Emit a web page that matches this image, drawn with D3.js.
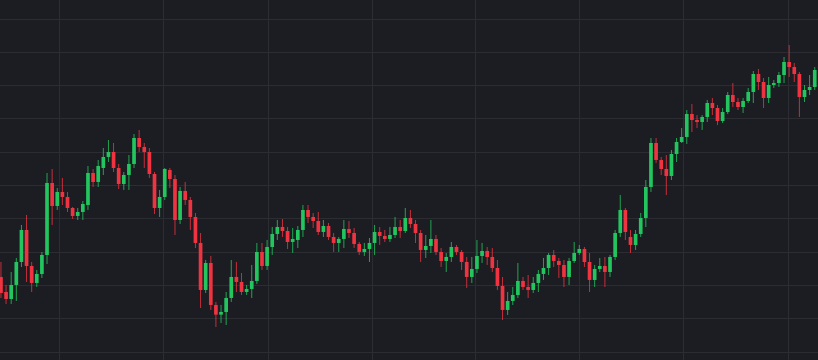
<!DOCTYPE html>
<html>
<head>
<meta charset="utf-8">
<script src="https://cdn.jsdelivr.net/npm/d3@7"></script>
<style>
  html, body { margin: 0; padding: 0; background: #1c1d22; overflow: hidden; }
</style>
</head>
<body>
<div class="container"></div>
<script>
// candle values (price units)
const open = [
  122.6, 118.1, 116.0, 120.2, 127.1, 136.7, 125.9, 120.8, 123.5, 129.2,
  150.8, 143.9, 148.1, 146.6, 143.3, 140.9, 142.1, 144.2, 153.8, 151.1,
  155.3, 158.6, 160.1, 155.3, 150.5, 153.2, 156.5, 164.3, 161.6, 160.1,
  153.5, 143.3, 146.6, 154.7, 152.0, 139.7, 148.4, 145.7, 140.6, 132.8,
  118.7, 126.8, 114.2, 111.3, 112.1, 116.3, 122.6, 121.1, 118.1, 119.0,
  121.4, 130.1, 125.9, 131.6, 135.5, 137.6, 136.4, 133.1, 133.7, 136.7,
  142.7, 140.6, 139.4, 136.1, 137.9, 134.6, 132.8, 134.0, 137.0, 135.8,
  132.5, 130.1, 131.0, 132.8, 136.1, 134.9, 134.0, 135.2, 137.6, 136.4,
  140.3, 138.5, 135.8, 130.7, 131.9, 134.0, 130.1, 127.4, 128.6, 131.6,
  130.1, 127.1, 122.6, 125.0, 128.9, 130.4, 128.6, 125.3, 119.9, 112.7,
  115.4, 117.2, 121.4, 119.6, 118.7, 120.8, 123.5, 125.3, 129.2, 127.4,
  126.2, 122.6, 127.4, 129.8, 131.0, 127.1, 121.7, 125.0, 125.9, 124.1,
  128.6, 135.8, 142.7, 134.6, 132.2, 135.5, 140.3, 149.6, 162.8, 157.7,
  155.0, 152.9, 159.5, 163.1, 164.6, 171.5, 169.7, 169.1, 170.6, 174.8,
  173.3, 169.4, 172.1, 177.2, 175.1, 173.6, 175.4, 178.1, 183.5, 181.1,
  176.3, 180.2, 180.8, 183.2, 187.1, 185.6, 183.5, 176.6, 178.7, 179.6
];
const high = [
  127.1, 120.2, 124.1, 128.3, 138.2, 141.2, 127.1, 124.7, 130.1, 153.8,
  155.0, 149.3, 152.3, 148.1, 143.6, 143.3, 145.4, 155.9, 155.0, 157.7,
  161.3, 163.7, 162.8, 156.5, 154.1, 159.2, 165.5, 166.7, 162.8, 161.3,
  154.1, 148.7, 155.3, 155.3, 153.2, 149.6, 151.1, 146.6, 141.8, 135.8,
  127.7, 128.9, 115.1, 114.2, 118.1, 127.7, 127.1, 123.8, 120.2, 126.2,
  132.8, 132.8, 133.7, 137.6, 139.7, 140.0, 137.6, 137.3, 137.9, 144.2,
  144.2, 141.8, 142.1, 139.7, 138.8, 135.8, 134.6, 139.7, 139.4, 137.3,
  133.1, 132.8, 134.3, 138.2, 137.6, 136.7, 137.6, 140.6, 139.7, 143.3,
  142.7, 139.7, 136.7, 135.2, 139.7, 135.2, 131.3, 129.8, 133.1, 132.2,
  130.7, 128.6, 128.6, 133.7, 132.8, 131.6, 131.3, 127.7, 122.6, 118.1,
  119.6, 126.8, 122.6, 123.2, 122.6, 124.7, 128.3, 129.8, 130.7, 128.3,
  127.7, 128.3, 133.1, 132.2, 131.6, 129.8, 126.2, 128.3, 128.6, 129.2,
  136.7, 147.2, 143.3, 136.7, 136.7, 141.8, 151.7, 164.3, 164.3, 158.6,
  159.2, 160.7, 164.3, 167.3, 172.7, 174.5, 171.2, 171.2, 175.7, 176.3,
  174.2, 173.3, 178.1, 180.8, 176.3, 176.3, 179.3, 184.4, 185.0, 182.3,
  182.6, 181.7, 184.1, 188.6, 192.2, 186.8, 184.1, 180.2, 183.2, 185.6
];
const low = [
  116.3, 114.5, 114.5, 115.4, 125.6, 121.1, 118.1, 119.6, 122.3, 126.5,
  138.2, 142.7, 144.2, 142.1, 140.0, 139.7, 139.7, 142.7, 149.6, 149.6,
  153.2, 157.1, 154.1, 149.0, 148.7, 148.7, 155.3, 160.1, 155.3, 152.3,
  141.5, 140.6, 145.7, 149.3, 135.2, 138.5, 144.2, 136.7, 131.3, 113.3,
  117.8, 112.7, 107.6, 108.8, 108.2, 115.1, 118.1, 117.2, 117.2, 116.3,
  120.5, 124.7, 124.7, 129.2, 133.7, 134.6, 131.0, 129.8, 131.3, 134.6,
  138.8, 137.3, 135.2, 134.6, 133.7, 130.1, 130.1, 131.3, 134.3, 131.3,
  129.2, 128.9, 127.1, 129.2, 132.2, 133.1, 133.1, 134.3, 134.3, 135.8,
  137.3, 132.8, 127.1, 128.3, 129.8, 129.2, 125.6, 124.1, 127.1, 129.2,
  124.7, 119.3, 120.8, 123.8, 126.8, 126.2, 124.1, 118.7, 109.7, 111.2,
  114.2, 116.3, 118.7, 116.3, 117.8, 118.1, 121.7, 123.2, 125.6, 122.3,
  119.6, 120.2, 126.8, 129.2, 125.6, 118.1, 119.6, 124.1, 119.6, 122.6,
  127.7, 134.6, 133.7, 129.8, 130.7, 134.6, 137.6, 148.1, 156.8, 153.2,
  147.2, 151.7, 157.1, 162.8, 162.5, 166.1, 167.3, 166.7, 169.1, 171.2,
  168.2, 168.8, 171.5, 173.6, 172.7, 171.8, 174.8, 174.8, 178.7, 173.3,
  174.8, 179.3, 179.6, 180.8, 182.6, 181.1, 170.6, 175.1, 177.2, 178.7
];
const close = [
  117.8, 116.0, 120.2, 127.1, 136.7, 125.9, 120.8, 123.5, 129.2, 150.8,
  143.9, 148.1, 146.6, 143.3, 140.9, 142.1, 144.5, 153.8, 151.1, 155.9,
  158.6, 160.1, 155.3, 150.5, 153.2, 156.5, 164.3, 161.6, 160.1, 153.5,
  143.3, 146.6, 155.0, 152.0, 139.7, 148.4, 145.7, 140.6, 132.8, 118.7,
  126.8, 114.2, 111.3, 112.1, 116.3, 122.6, 121.1, 118.1, 119.0, 121.4,
  130.1, 125.9, 131.6, 135.5, 137.6, 136.4, 133.1, 134.0, 136.7, 142.7,
  140.6, 139.4, 136.1, 137.9, 134.6, 132.8, 134.0, 137.0, 135.8, 132.5,
  130.1, 131.0, 132.8, 136.1, 134.9, 134.0, 135.2, 137.6, 136.4, 140.3,
  138.5, 135.8, 130.7, 131.9, 134.0, 130.1, 127.4, 128.6, 131.6, 130.1,
  127.1, 122.6, 125.0, 128.9, 130.4, 128.6, 125.3, 119.9, 112.7, 115.4,
  117.2, 121.4, 119.6, 118.7, 120.8, 123.5, 125.3, 129.2, 127.4, 126.2,
  122.6, 127.4, 129.8, 131.0, 127.1, 121.7, 125.0, 125.9, 124.1, 128.6,
  135.8, 142.7, 136.1, 132.2, 135.5, 140.3, 149.6, 162.8, 157.7, 155.0,
  152.9, 159.5, 163.1, 164.6, 171.5, 169.7, 169.1, 170.6, 174.8, 173.3,
  169.4, 172.1, 177.2, 175.1, 173.6, 175.4, 178.1, 183.5, 181.1, 176.3,
  180.2, 180.8, 183.2, 187.1, 185.6, 183.5, 176.6, 178.7, 179.6, 184.7
];

// grid positions: price levels and time marks (in candle index units)
const priceTicks = d3.range(100, 201, 10);
const timeTicks = [11.5, 31.85, 52.2, 72.5, 92.8, 113.1, 133.45, 153.8];

const candles = open.map((o, i) => ({
  i: i, open: o, high: high[i], low: low[i], close: close[i],
}));

d3.select(".container").call(chart, candles);

function chart(container, data) {
  //size
  const width = 818;
  const height = 360;

  const upColor = "#22c55e";
  const downColor = "#ef3340";

  //scale
  const x = d3
    .scaleBand()
    .domain(data.map((d) => d.i))
    .range([-1.6, 817.3])
    .paddingInner(0.28)
    .paddingOuter(0.14);

  const xMid = d3
    .scaleLinear()
    .domain([0, data.length - 1])
    .range([x(0) + x.bandwidth() / 2, x(data.length - 1) + x.bandwidth() / 2]);

  const y = d3.scaleLinear().domain([100, 200]).range([352.3, 19]);

  const svg = container
    .append("svg")
    .attr("width", width)
    .attr("height", height)
    .style("display", "block");

  svg
    .append("rect")
    .attr("width", width)
    .attr("height", height)
    .attr("fill", "#1c1d22");

  //grid
  const grid = svg
    .append("g")
    .attr("stroke", "#2b2d33")
    .attr("stroke-width", 1)
    .attr("shape-rendering", "crispEdges");

  grid
    .selectAll("line.h")
    .data(priceTicks)
    .join("line")
    .attr("class", "h")
    .attr("x1", 0)
    .attr("x2", width)
    .attr("y1", (d) => Math.floor(y(d)) + 0.5)
    .attr("y2", (d) => Math.floor(y(d)) + 0.5);

  grid
    .selectAll("line.v")
    .data(timeTicks)
    .join("line")
    .attr("class", "v")
    .attr("y1", 0)
    .attr("y2", height)
    .attr("x1", (d) => Math.floor(xMid(d)) + 0.5)
    .attr("x2", (d) => Math.floor(xMid(d)) + 0.5);

  //candles
  const color = (d) => (d.close >= d.open ? upColor : downColor);

  const gItem = svg
    .append("g")
    .selectAll("g")
    .data(data)
    .join("g");

  gItem
    .append("line")
    .attr("stroke", color)
    .attr("stroke-width", 1)
    .attr("stroke-opacity", 0.8)
    .attr("x1", (d) => x(d.i) + x.bandwidth() / 2)
    .attr("x2", (d) => x(d.i) + x.bandwidth() / 2)
    .attr("y1", (d) => y(d.high))
    .attr("y2", (d) => y(d.low));

  gItem
    .append("rect")
    .attr("fill", color)
    .attr("x", (d) => x(d.i))
    .attr("width", x.bandwidth())
    .attr("y", (d) => y(Math.max(d.open, d.close)))
    .attr("height", (d) =>
      Math.max(1, Math.abs(y(d.open) - y(d.close)))
    );
}
</script>
</body>
</html>
